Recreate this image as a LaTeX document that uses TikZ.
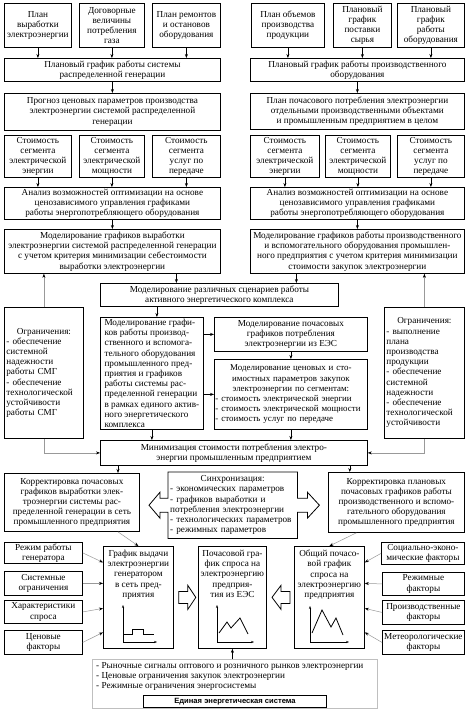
\documentclass[tikz,border=0pt]{standalone}
\usepackage{fontspec}
\setmainfont{Liberation Serif}
\newfontfamily\labelsans{Liberation Sans}
\usepackage{tikz}
\usetikzlibrary{arrows.meta, calc}
\tikzset{
    blk/.style={
        rectangle, draw=black, fill=white, line width=0.8pt,
        inner sep=1pt, anchor=north west,
        font=\fontsize{9.2}{10.2}\selectfont, align=center
    },
    txt/.style={
        inner sep=1pt, font=\fontsize{9.2}{10.2}\selectfont, align=center
    },
    dataarrow/.style={
        -{Stealth[length=4pt, width=3pt]}, line width=0.5pt, color=black
    },
    feedarrow/.style={
        -{Stealth[length=4pt, width=3pt, color=black]}, line width=0.5pt, draw=gray!80
    },
    hollow/.style={
        draw=black, line width=0.8pt, line join=miter
    },
    axisline/.style={
        -{Stealth[length=3pt, width=2.2pt]}, line width=0.5pt
    },
    curve/.style={
        line width=0.8pt, line join=miter
    },
}

\begin{document}
\begin{tikzpicture}[x=1pt, y=-1pt]
    \useasboundingbox[fill=white] (0,0) rectangle (468,713);

    % Row 1: source plans
    \node[blk, minimum width=67, minimum height=44] (planvyr) at (4,3) {План\\выработки\\электроэнергии};
    \node[blk, minimum width=65, minimum height=44] (dogovor) at (79,3) {Договорные\\величины\\потребления\\газа};
    \node[blk, minimum width=68, minimum height=44] (remont) at (152,3) {План ремонтов\\и остановов\\оборудования};
    \node[blk, minimum width=73, minimum height=44] (planobj) at (251,3) {План объемов\\производства\\продукции};
    \node[blk, minimum width=58, minimum height=44] (postavka) at (333,3) {Плановый\\график\\поставки\\сырья};
    \node[blk, minimum width=67, minimum height=44] (rabobor) at (397,3) {Плановый\\график\\работы\\оборудования};

    % Row 2-3: schedules and forecasts
    \node[blk, minimum width=216, minimum height=23] (grafsmg) at (4,58) {Плановый график работы системы\\распределенной генерации};
    \node[blk, minimum width=214, minimum height=23] (grafprod) at (250,58) {Плановый график работы производственного\\оборудования};
    \node[blk, minimum width=216, minimum height=37] (prognoz) at (4,93) {Прогноз ценовых параметров производства\\электроэнергии системой распределенной\\генерации};
    \node[blk, minimum width=214, minimum height=36] (planpoch) at (250,93) {План почасового потребления электроэнергии\\отдельными производственными объектами\\и промышленным предприятием в целом};

    % Row 4: cost segments
    \node[blk, minimum width=67, minimum height=42] (cL1) at (4,135) {Стоимость\\сегмента\\электрической\\энергии};
    \node[blk, minimum width=65, minimum height=42] (cL2) at (79,135) {Стоимость\\сегмента\\электрической\\мощности};
    \node[blk, minimum width=68, minimum height=42] (cL3) at (152,135) {Стоимость\\сегмента\\услуг по\\передаче};
    \node[blk, minimum width=69, minimum height=42] (cR1) at (250,135) {Стоимость\\сегмента\\электрической\\энергии};
    \node[blk, minimum width=65, minimum height=42] (cR2) at (325,135) {Стоимость\\сегмента\\электрической\\мощности};
    \node[blk, minimum width=67, minimum height=42] (cR3) at (397,135) {Стоимость\\сегмента\\услуг по\\передаче};

    % Row 5-6: analysis and modelling
    \node[blk, minimum width=216, minimum height=32] (anL) at (4,187) {Анализ возможностей оптимизации на основе\\ценозависимого управления графиками\\работы энергопотребляющего оборудования};
    \node[blk, minimum width=214, minimum height=32] (anR) at (250,187) {Анализ возможностей оптимизации на основе\\ценозависимого управления графиками\\работы энергопотребляющего оборудования};
    \node[blk, minimum width=216, minimum height=44] (modgen) at (4,229) {Моделирование графиков выработки\\электроэнергии системой распределенной генерации\\с учетом критерия минимизации себестоимости\\выработки электроэнергии};
    \node[blk, minimum width=214, minimum height=44] (modprod) at (250,229) {Моделирование графиков работы производственного\\и вспомогательного оборудования промышлен-\\ного предприятия с учетом критерия минимизации\\стоимости закупок электроэнергии};

    % Middle block: active energy complex
    \node[blk, minimum width=238, minimum height=23] (scen) at (100,283) {Моделирование различных сценариев работы\\активного энергетического комплекса};
    \node[blk, minimum width=79, minimum height=131, text width=75, align=left] (ogrL) at (4,307) {\centering Ограничения:\par\raggedright - обеспечение\\системной\\надежности\\работы СМГ\\- обеспечение\\технологической\\устойчивости\\работы СМГ};
    \node[blk, minimum width=80, minimum height=131, text width=76, align=left] (ogrR) at (384,307) {\centering Ограничения:\par\raggedright - выполнение\\плана\\производства\\продукции\\- обеспечение\\системной\\надежности\\- обеспечение\\технологической\\устойчивости};
    \node[blk, minimum width=103, minimum height=112, align=left] (modaek) at (100,317) {Моделирование графи-\\ков работы производ-\\ственного и вспомога-\\тельного оборудования\\промышленного пред-\\приятия и графиков\\работы системы рас-\\пределенной генерации\\в рамках единого актив-\\ного энергетического\\комплекса};
    \node[blk, minimum width=153, minimum height=34] (modees) at (214,317) {Моделирование почасовых\\графиков потребления\\электроэнергии из ЕЭС};
    \node[blk, minimum width=153, minimum height=70, text width=151, inner sep=0.5pt, align=left, font=\fontsize{8.9}{10.2}\selectfont] (modcen) at (214,359) {\centering Моделирование ценовых и сто-\\имостных параметров закупок\\электроэнергии по сегментам:\par\raggedright - стоимость электрической энергии\\- стоимость электрической мощности\\- стоимость услуг по передаче};
    \node[blk, minimum width=267, minimum height=25] (minim) at (100,440) {Минимизация стоимости потребления электро-\\энергии промышленным предприятием};

    % Corrections and synchronisation
    \node[blk, minimum width=135, minimum height=58] (korL) at (4,473) {Корректировка почасовых\\графиков выработки элек-\\троэнергии системы рас-\\пределенной генерации в сеть\\промышленного предприятия};
    \node[blk, minimum width=136, minimum height=60] (korR) at (328,472) {Корректировка плановых\\почасовых графиков работы\\производственного и вспомо-\\гательного оборудования\\промышленного предприятия};
    \node[txt, minimum width=129, minimum height=66, text width=125, align=left, anchor=north west] (sync) at (168,472) {\centering Синхронизация:\par\raggedright - экономических параметров\\- графиков выработки и\\потребления электроэнергии\\- технологических параметров\\- режимных параметров};
    \draw[hollow] (sync.north west) -- (sync.north east) -- ($(sync.east)+(0,-7)$) -- ++(10,0) -- ++(0,-6) -- ++(12,13) -- ++(-12,13) -- ++(0,-6) -- ++(-10,0) -- (sync.south east) -- (sync.south west) -- ($(sync.west)+(0,7)$) -- ++(-8,0) -- ++(0,6) -- ++(-11,-13) -- ++(11,-13) -- ++(0,6) -- ++(8,0) -- cycle;

    % Bottom row: load curves
    \node[blk, minimum width=70, minimum height=102] (vydacha) at (103,546) {};
    \node[txt, anchor=north] (vydachatxt) at ([yshift=-3pt]vydacha.north) {График выдачи\\электроэнергии\\генератором\\в сеть пред-\\приятия};
    \node[blk, minimum width=68, minimum height=102] (poch) at (198,546) {};
    \node[txt, anchor=north] (pochtxt) at ([yshift=-3pt]poch.north) {Почасовой гра-\\фик спроса на\\электроэнергию\\предприя-\\тия из ЕЭС};
    \node[blk, minimum width=70, minimum height=102] (obsh) at (294,546) {};
    \node[txt, anchor=north] (obshtxt) at ([yshift=-3pt]obsh.north) {Общий почасо-\\вой график\\спроса на\\электроэнергию\\предприятия};

    \draw[axisline] (123,642) -- (123,605);
    \draw[axisline] (123,642) -- (157,642);
    \draw[curve] (123,634) -- (132,634) -- (132,629) -- (143,629) -- (143,634) -- (154,634);
    \draw[axisline] (217,642) -- (217,605);
    \draw[axisline] (217,642) -- (254,642);
    \draw[curve] (219,633) -- (227,622) -- (231,628) -- (240,618) -- (248,634);
    \draw[axisline] (310,642) -- (310,606);
    \draw[axisline] (310,642) -- (349,642);
    \draw[curve] (312,633) -- (322,610) -- (331,627) -- (336,618) -- (343,635);

    % Hollow arrows between curves
    \draw[hollow] ($(vydacha.east)+(5,-6)$) -- ++(9,0) -- ++(0,-6) -- ++(8,12) -- ++(-8,12) -- ++(0,-6) -- ++(-9,0) -- cycle;
    \draw[hollow] ($(obsh.west)+(-4,-6)$) -- ++(-9,0) -- ++(0,-6) -- ++(-9,12) -- ++(9,12) -- ++(0,-6) -- ++(9,0) -- cycle;

    % Factors
    \node[blk, minimum width=78, minimum height=21] (f1) at (4,542) {Режим работы\\генератора};
    \node[blk, minimum width=78, minimum height=24] (f2) at (4,571) {Системные\\ограничения};
    \node[blk, minimum width=78, minimum height=23] (f3) at (4,600) {Характеристики\\спроса};
    \node[blk, minimum width=78, minimum height=24] (f4) at (4,630) {Ценовые\\факторы};
    \node[blk, minimum width=83, minimum height=22] (g1) at (381,542) {Социально-эконо-\\мические факторы};
    \node[blk, minimum width=82, minimum height=23] (g2) at (382,572) {Режимные\\факторы};
    \node[blk, minimum width=82, minimum height=24] (g3) at (382,600) {Производственные\\факторы};
    \node[blk, minimum width=82, minimum height=24] (g4) at (382,630) {Метеорологические\\факторы};

    % Unified energy system
    \node[rectangle, draw=gray!50, line width=0.6pt, minimum width=285, minimum height=49, anchor=north west] (ees) at (92,659) {};
    \node[txt, anchor=north west, align=left] (eestxt) at ([shift={(3pt,-2pt)}]ees.north west) {- Рыночные сигналы оптового и розничного рынков электроэнергии\\- Ценовые ограничения закупок электроэнергии\\- Режимные ограничения энергосистемы};
    \node[rectangle, draw=black, line width=1pt, fill=white, minimum width=183, minimum height=12, inner sep=0pt, anchor=north west, font=\labelsans\bfseries\fontsize{7.6}{8}\selectfont] (eessys) at (143,695) {Единая энергетическая система};

    % Arrows top part
    \foreach \n in {planvyr, dogovor, remont}
        \draw[dataarrow] (\n.south) -- (\n.south |- grafsmg.north);
    \foreach \n in {planobj, postavka, rabobor}
        \draw[dataarrow] (\n.south) -- (\n.south |- grafprod.north);
    \draw[dataarrow] (grafsmg) -- (prognoz);
    \draw[dataarrow] (grafprod) -- (planpoch);
    \foreach \n in {cL1, cL2, cL3}
        \draw[dataarrow] (\n.south) -- (\n.south |- anL.north);
    \foreach \n in {cR1, cR2, cR3}
        \draw[dataarrow] (\n.south) -- (\n.south |- anR.north);
    \draw[dataarrow] (anL) -- (modgen);
    \draw[dataarrow] (anR) -- (modprod);

    % Arrows middle part
    \draw[dataarrow] ([xshift=64pt]modgen.south) -- ([xshift=64pt]modgen.south |- scen.north);
    \draw[dataarrow] ([xshift=-61pt]modprod.south) -- ([xshift=-61pt]modprod.south |- scen.north);
    \draw[dataarrow] ([xshift=5pt]modaek.north |- scen.south) -- ([xshift=5pt]modaek.north);
    \draw[dataarrow] (modaek.east |- modees.west) -- (modees.west);
    \draw[dataarrow] (modaek.east |- modcen.west) -- (modcen.west);
    \draw[dataarrow] (modees) -- (modcen);
    \draw[dataarrow] (modaek.south) -- (modaek.south |- minim.north);
    \draw[dataarrow] (modcen.south) -- (modcen.south |- minim.north);
    \draw[feedarrow] (ogrL.north) -- (ogrL.north |- modgen.south);
    \draw[feedarrow] (ogrR.north) -- (ogrR.north |- modprod.south);
    \draw[feedarrow] (ogrL.south) |- (minim.west);
    \draw[feedarrow] (ogrR.south) |- (minim.east);

    % Arrows bottom part
    \draw[dataarrow] ([xshift=18pt]minim.south west) -- ([xshift=18pt]minim.south west |- korL.north);
    \draw[dataarrow] ([xshift=-18pt]minim.south east) -- ([xshift=-18pt]minim.south east |- korR.north);
    \draw[feedarrow] ([xshift=46pt]korL.south) -- (vydacha.north);
    \draw[feedarrow] ([xshift=-40pt]korR.south) -- (obsh.north);
    \draw[feedarrow] (f1.east) -- ([yshift=35pt]vydacha.west);
    \draw[feedarrow] (f2.east) -- ([yshift=14pt]vydacha.west);
    \draw[feedarrow] (f3.east) -- ([yshift=-11pt]vydacha.west);
    \draw[feedarrow] (f4.east) -- ([yshift=-35pt]vydacha.west);
    \draw[feedarrow] (g1.west) -- ([yshift=35pt]obsh.east);
    \draw[feedarrow] (g2.west) -- ([yshift=14pt]obsh.east);
    \draw[feedarrow] (g3.west) -- ([yshift=-11pt]obsh.east);
    \draw[feedarrow] (g4.west) -- ([yshift=-35pt]obsh.east);
    \draw[dataarrow] (poch.south |- ees.north) -- (poch.south);

\end{tikzpicture}
\end{document}
